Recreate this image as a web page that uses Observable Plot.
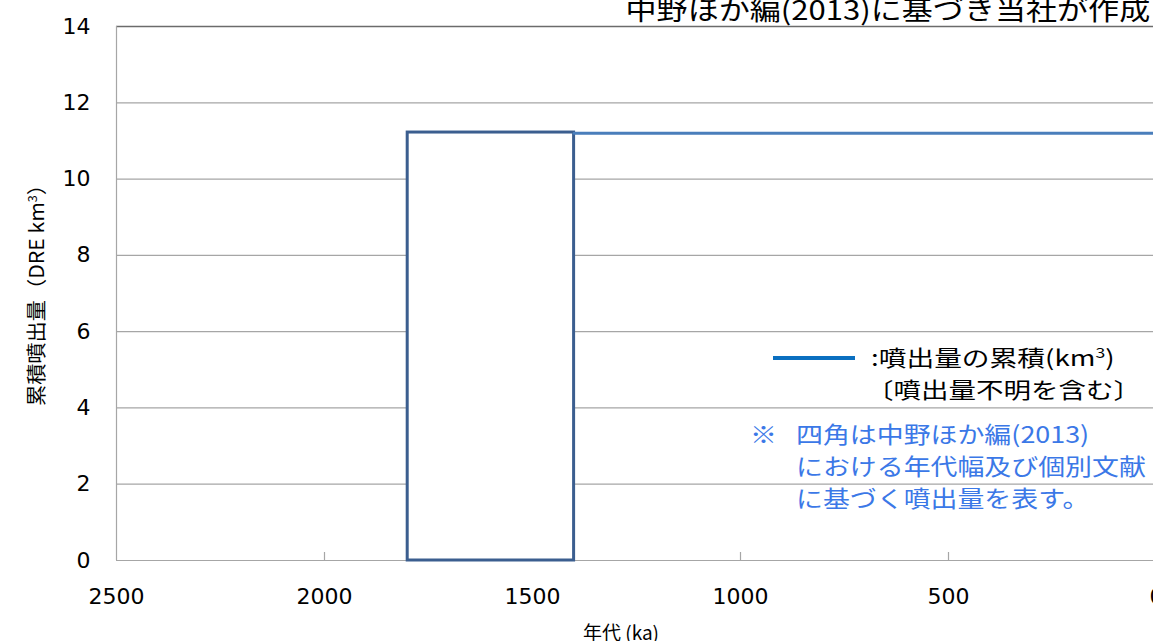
<!DOCTYPE html>
<html><head><meta charset="utf-8">
<script src="https://cdn.jsdelivr.net/npm/d3@7"></script>
<script src="https://cdn.jsdelivr.net/npm/@observablehq/plot@0.6"></script>
<style>
html,body{margin:0;padding:0;overflow:hidden;background:#fff}
body{font-family:"Noto Sans CJK JP","Noto Sans",sans-serif;color:#000}
#wrap{position:relative;width:1160px;height:641px;overflow:hidden}
#wrap svg{position:absolute;left:0;top:0}
.abs{position:absolute;white-space:nowrap;line-height:1}
</style></head><body><div id="wrap"></div>
<script>
// ---- data ----
const xTicks = [2500, 2000, 1500, 1000, 500, 0];
const yTicks = [0, 2, 4, 6, 8, 10, 12, 14];
const boxAgeOld = [1800];
const boxAgeYoung = [1400];
const boxVolume = [11.22];
const lineAge = [1400, 0];
const lineVolume = [11.2, 11.2];

const boxes = boxAgeOld.map((a, i) => ({x1: a, x2: boxAgeYoung[i], y1: 0, y2: boxVolume[i]}));
const line = lineAge.map((a, i) => ({age: a, vol: lineVolume[i]}));

const chart = Plot.plot({
  width: 1160,
  height: 641,
  marginLeft: 116,
  marginRight: 4,
  marginTop: 26,
  marginBottom: 81,
  style: {fontFamily: "'DejaVu Sans', sans-serif", background: "transparent"},
  x: {domain: [2500, 0], ticks: xTicks, label: null},
  y: {domain: [0, 14], ticks: yTicks, label: null},
  marks: [
    Plot.ruleY(yTicks.filter(v => v > 0 && v < 14), {stroke: "#a6a6a6", strokeWidth: 1.2}),
    Plot.ruleY([14], {stroke: "#6b6b6b", strokeWidth: 1.4}),
    Plot.ruleY([0], {stroke: "#a6a6a6", strokeWidth: 1.2}),
    Plot.ruleX([2500], {stroke: "#a6a6a6", strokeWidth: 1.2}),
    Plot.ruleX(xTicks.filter(v => v !== 2500), {stroke: "#a6a6a6", strokeWidth: 1.2, insetTop: 526}),
    Plot.rect(boxes, {x1: "x1", x2: "x2", y1: "y1", y2: "y2", fill: "white", stroke: "#3b5e8f", strokeWidth: 3}),
    Plot.line(line, {x: "age", y: "vol", stroke: "#4a7ebb", strokeWidth: 3}),
    Plot.axisX({ticks: xTicks, tickFormat: d3.format("d"), tickSize: 0, tickPadding: 28, fontSize: 22, fill: "#000"}),
    Plot.axisY({ticks: yTicks, tickFormat: d3.format("d"), tickSize: 0, tickPadding: 26, fontSize: 22, fill: "#000"})
  ]
});
const wrap = document.getElementById("wrap");
wrap.appendChild(chart);

function addText(html, css) {
  const d = document.createElement("div");
  d.className = "abs";
  d.innerHTML = html;
  Object.assign(d.style, css);
  wrap.appendChild(d);
  return d;
}
// title (top right, partially cut off)
addText("中野ほか編(2013)に基づき当社が作成", {right: "10px", top: "-5px", fontSize: "27px", transform: "scaleX(1.15)", transformOrigin: "right center"});
// y-axis title
addText("累積噴出量（DRE km<sup style='font-size:12px;vertical-align:top'>3</sup>）", {left: "36px", top: "290px", fontSize: "20px", transform: "translate(-50%,-50%) rotate(-90deg) scaleX(1.06)"});
// x-axis title
addText("年代 (ka)", {left: "621px", top: "622px", fontSize: "19px", transform: "translateX(-50%)"});
// legend
const lg = document.createElement("div");
Object.assign(lg.style, {position: "absolute", left: "773px", top: "356px", width: "82px", height: "4px", background: "#0a6fc0"});
wrap.appendChild(lg);
addText(":噴出量の累積(km<sup style='font-size:14px;vertical-align:top'>3</sup>)", {left: "871px", top: "345px", fontSize: "22px", transform: "scaleX(1.26)", transformOrigin: "left center"});
addText("〔噴出量不明を含む〕", {left: "866px", top: "377px", fontSize: "22px", transform: "scaleX(1.25)", transformOrigin: "left center"});
// note
const blue = "#3b78e7";
const noteCss = {fontSize: "23px", color: blue, transform: "scaleX(1.17)", transformOrigin: "left center"};
addText("※", {...noteCss, left: "750px", top: "422px"});
addText("四角は中野ほか編(2013)", {...noteCss, left: "796px", top: "422px"});
addText("における年代幅及び個別文献", {...noteCss, left: "796px", top: "454px"});
addText("に基づく噴出量を表す。", {...noteCss, left: "796px", top: "486px"});
</script>
</body></html>
